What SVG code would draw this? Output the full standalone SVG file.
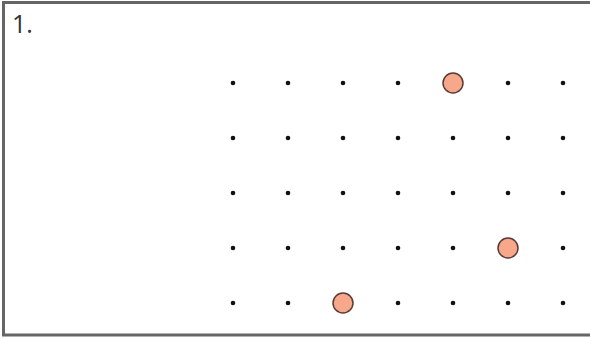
<svg xmlns="http://www.w3.org/2000/svg" width="590" height="338" viewBox="0 0 590 338">
<style>
.dot{fill:#111}
.pt{fill:#f7a88b;stroke:#5a3b35;stroke-width:1.5}
.lbl{font-family:"Open Sans","Noto Sans",sans-serif;font-size:25px;fill:#333}
</style>
<rect x="3.5" y="2.5" width="600" height="332.5" fill="#fff" stroke="#666" stroke-width="3"/>
<text class="lbl" x="12" y="33">1.</text>
<g id="grid">
<g id="row1"><circle class="dot" cx="233" cy="83" r="2.3"/><circle class="dot" cx="288" cy="83" r="2.3"/><circle class="dot" cx="343" cy="83" r="2.3"/><circle class="dot" cx="398" cy="83" r="2.3"/><circle class="dot" cx="508" cy="83" r="2.3"/><circle class="dot" cx="563" cy="83" r="2.3"/></g>
<g id="row2"><circle class="dot" cx="233" cy="138" r="2.3"/><circle class="dot" cx="288" cy="138" r="2.3"/><circle class="dot" cx="343" cy="138" r="2.3"/><circle class="dot" cx="398" cy="138" r="2.3"/><circle class="dot" cx="453" cy="138" r="2.3"/><circle class="dot" cx="508" cy="138" r="2.3"/><circle class="dot" cx="563" cy="138" r="2.3"/></g>
<g id="row3"><circle class="dot" cx="233" cy="193" r="2.3"/><circle class="dot" cx="288" cy="193" r="2.3"/><circle class="dot" cx="343" cy="193" r="2.3"/><circle class="dot" cx="398" cy="193" r="2.3"/><circle class="dot" cx="453" cy="193" r="2.3"/><circle class="dot" cx="508" cy="193" r="2.3"/><circle class="dot" cx="563" cy="193" r="2.3"/></g>
<g id="row4"><circle class="dot" cx="233" cy="248" r="2.3"/><circle class="dot" cx="288" cy="248" r="2.3"/><circle class="dot" cx="343" cy="248" r="2.3"/><circle class="dot" cx="398" cy="248" r="2.3"/><circle class="dot" cx="453" cy="248" r="2.3"/><circle class="dot" cx="563" cy="248" r="2.3"/></g>
<g id="row5"><circle class="dot" cx="233" cy="303" r="2.3"/><circle class="dot" cx="288" cy="303" r="2.3"/><circle class="dot" cx="398" cy="303" r="2.3"/><circle class="dot" cx="453" cy="303" r="2.3"/><circle class="dot" cx="508" cy="303" r="2.3"/><circle class="dot" cx="563" cy="303" r="2.3"/></g>
</g>
<g id="points">
<circle id="p1" class="pt" cx="453" cy="83" r="10"/>
<circle id="p2" class="pt" cx="508" cy="248" r="10"/>
<circle id="p3" class="pt" cx="343" cy="303" r="10"/>
</g>
</svg>
